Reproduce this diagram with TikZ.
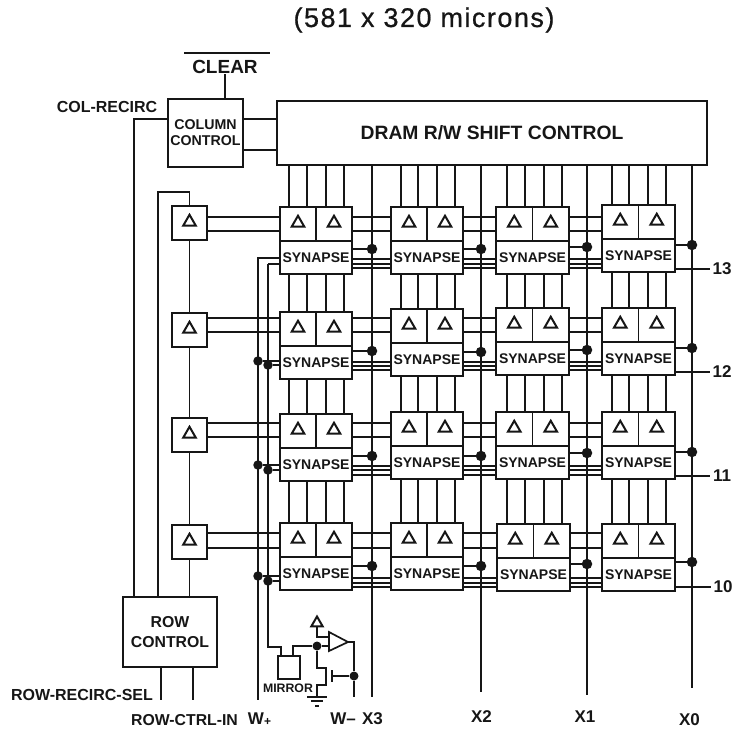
\documentclass[tikz,border=0pt]{standalone}
\usepackage{fontspec}
\setmainfont{Liberation Sans}
\newfontfamily\titlefont[FakeBold=0.7,LetterSpace=5.5]{Liberation Sans}
\usetikzlibrary{shapes.geometric}
\definecolor{ink}{HTML}{161616}
\newcommand{\lbl}[1]{\fontsize{#1}{#1}\selectfont\bfseries}
\tikzset{
  wire/.style={draw=ink,line width=1.6pt},
  boxn/.style={draw=ink,line width=1.7pt,rectangle,inner sep=0pt,outer sep=0pt,text=ink,align=center},
  tribox/.style={boxn,minimum height=34pt},
  synbox/.style={boxn,minimum height=33pt,font=\lbl{14}},
  delta/.style={draw=ink,line width=2pt,regular polygon,regular polygon sides=3,minimum size=14.5pt,inner sep=0pt,yshift=1pt},
  dot/.style={circle,fill=ink,inner sep=0pt,minimum size=10.5pt},
  txt/.style={text=ink,inner sep=0pt,outer sep=0pt}
}
\begin{document}
\begin{tikzpicture}[x=1pt,y=-1pt]
\useasboundingbox (0,0) rectangle (734,732);
% title and labels
\node[txt,font=\titlefont\fontsize{27}{27}\selectfont] (title) at (424,20) {(581 x 320 microns)};
\node[txt,font=\lbl{19}] (clear) at (225,67) {CLEAR};
\node[txt,font=\lbl{16}] (colrecirc) at (107,107) {COL-RECIRC};
\node[txt,font=\lbl{16}] (rowrecirc) at (82,695) {ROW-RECIRC-SEL};
\node[txt,font=\lbl{15.8}] (rowctrl) at (184.5,720) {ROW-CTRL-IN};
\node[txt,font=\lbl{17}] (wplus) at (259.5,719) {W\raisebox{-0.5pt}{\fontsize{12}{12}\selectfont+}};
\node[txt,font=\lbl{17}] (wminus) at (343,719) {W--};
\node[txt,font=\lbl{17}] (lx3) at (372.5,719) {X3};
\node[txt,font=\lbl{17}] (lx2) at (481.5,717) {X2};
\node[txt,font=\lbl{17}] (lx1) at (585,717) {X1};
\node[txt,font=\lbl{17}] (lx0) at (689.5,720) {X0};
% main blocks
\node[boxn,minimum width=430pt,minimum height=64pt,font=\lbl{19.3},anchor=north west] (dram) at (277,101) {DRAM R/W SHIFT CONTROL};
\node[boxn,minimum width=75pt,minimum height=68pt,font=\lbl{14.2},anchor=north west] (colc) at (168,99) {COLUMN\\[2pt]CONTROL};
\node[boxn,minimum width=94pt,minimum height=70pt,font=\lbl{15.8},anchor=north west] (rowc) at (123,597) {ROW\\[4pt]CONTROL};
\node[boxn,minimum width=22pt,minimum height=23pt,anchor=north west] (mirror) at (278,656) {};
\node[txt,font=\lbl{12.3}] (lmirror) at (288,688) {MIRROR};
% row delta boxes
\foreach \r/\y in {1/206,2/313,3/418,4/525}{
  \node[boxn,minimum width=35pt,minimum height=34pt,anchor=north west] (rb\r) at (172,\y) {};
  \node[delta] (rt\r) at (rb\r) {};
}
% cells
\foreach \r/\c/\x/\w/\t in {
 1/1/280/72/207,1/2/391/72/207,1/3/496/73/207,1/4/602/73/205,
 2/1/280/72/312,2/2/391/72/309,2/3/496/73/308,2/4/602/73/308,
 3/1/280/72/414,3/2/391/72/412,3/3/496/73/412,3/4/602/73/412,
 4/1/280/72/523,4/2/391/72/523,4/3/497/73/524,4/4/602/73/524}{
  \pgfmathsetmacro\hw{\w/2}
  \pgfmathsetmacro\xm{\x+\w/2}
  \pgfmathsetmacro\yh{\t+34}
  \node[tribox,minimum width=\hw pt,anchor=north west] (ca\r\c) at (\x,\t) {};
  \node[tribox,minimum width=\hw pt,anchor=north west] (cb\r\c) at (\xm,\t) {};
  \node[synbox,minimum width=\w pt,anchor=north west] (s\r\c) at (\x,\yh) {SYNAPSE};
  \node[delta] (ta\r\c) at (ca\r\c) {};
  \node[delta] (tb\r\c) at (cb\r\c) {};
}
% named positions
\foreach \n/\x in {v1a/289,v1b/307,v1c/326,v1d/344,v2a/401,v2b/418,v2c/437,v2d/455,v3a/507,v3b/525,v3c/544,v3d/562,v4a/612,v4b/629,v4c/648,v4d/666,
                   xl3/372,xl2/481,xl1/587,xl0/692,wp/258,wm/268,rca/161,rcb/193}
  \coordinate (\n) at (\x,0);
\coordinate (xe3) at (372,697);\coordinate (xe2) at (481,692);\coordinate (xe1) at (587,695);\coordinate (xe0) at (692,688);
\coordinate (wpe) at (258,700);\coordinate (rcae) at (161,700);\coordinate (rcbe) at (193,700);
% X lines
\foreach \i in {3,2,1,0} \draw[wire] (dram.south -| xl\i) -- (xe\i);
% vertical data lines
\foreach \c in {1,2,3,4}{
  \foreach \s/\b in {a/ca,b/ca,c/cb,d/cb}{
    \draw[wire] (dram.south -| v\c\s) -- (\b1\c.north -| v\c\s);
    \draw[wire] (s1\c.south -| v\c\s) -- (\b2\c.north -| v\c\s);
    \draw[wire] (s2\c.south -| v\c\s) -- (\b3\c.north -| v\c\s);
    \draw[wire] (s3\c.south -| v\c\s) -- (\b4\c.north -| v\c\s);
  }
}
% delta lines per row
\foreach \r/\ya/\yb in {1/217/231,2/318/332,3/423/437,4/533/548}{
  \coordinate (ya\r) at (0,\ya); \coordinate (yb\r) at (0,\yb);
  \foreach \q in {ya,yb}{
    \draw[wire] (rb\r.east |- \q\r) -- (ca\r1.west |- \q\r);
    \draw[wire] (cb\r1.east |- \q\r) -- (ca\r2.west |- \q\r);
    \draw[wire] (cb\r2.east |- \q\r) -- (ca\r3.west |- \q\r);
    \draw[wire] (cb\r3.east |- \q\r) -- (ca\r4.west |- \q\r);
  }
}
% synapse triple lines
\foreach \r/\ya/\yb/\yc in {1/259/264/268,2/362/366/370,3/466/470/475,4/578/583/587}{
  \foreach \n/\y in {p/\ya,q/\yb,w/\yc}{
    \coordinate (t\n\r) at (0,\y);
    \draw[wire,line width=1.3pt] (s\r1.east |- t\n\r) -- (s\r2.west |- t\n\r);
    \draw[wire,line width=1.3pt] (s\r2.east |- t\n\r) -- (s\r3.west |- t\n\r);
    \draw[wire,line width=1.3pt] (s\r3.east |- t\n\r) -- (s\r4.west |- t\n\r);
  }
}
% synapse stubs with dots
\foreach \r/\c/\xn/\y in {1/1/xl3/249,1/2/xl2/249,1/3/xl1/247,1/4/xl0/245,
                          2/1/xl3/351,2/2/xl2/352,2/3/xl1/350,2/4/xl0/348,
                          3/1/xl3/456,3/2/xl2/456,3/3/xl1/453,3/4/xl0/452,
                          4/1/xl3/566,4/2/xl2/566,4/3/xl1/564,4/4/xl0/562}{
  \coordinate (sy\r\c) at (0,\y);
  \node[dot] (d\r\c) at (\xn |- sy\r\c) {};
  \draw[wire] (s\r\c.east |- d\r\c) -- (d\r\c);
}
% row output labels
\foreach \r/\n/\y/\lx in {1/13/269/722,2/12/372/722,3/11/476/722,4/10/587/723}{
  \node[txt,font=\lbl{17}] (ro\r) at (\lx,\y) {\n};
  \coordinate (ry\r) at (0,\y);
  \draw[wire,shorten >=3pt] (s\r4.east |- ry\r) -- (ro\r.west |- ry\r);
}
% W+ and W- distribution
\coordinate (wpt) at (258,258);\coordinate (wmt) at (268,264);
\draw[wire] (s11.west |- wpt) -- (wpt) -- (wpe);
\draw[wire] (s11.west |- wmt) -- (wmt);
\coordinate (wmc) at (268,647);\coordinate (wmd) at (281,647);
\draw[wire] (wmt) -- (wmc) -- (wmd) -- (mirror.north -| wmd);
\foreach \r/\ya/\yb in {2/361/365,3/465/470,4/576/581}{
  \coordinate (wa\r) at (0,\ya);\coordinate (wb\r) at (0,\yb);
  \node[dot,minimum size=9.5pt] (dp\r) at (wp |- wa\r) {};
  \node[dot,minimum size=9.5pt] (dm\r) at (wm |- wb\r) {};
  \draw[wire] (dp\r) -- (s\r1.west |- dp\r);
  \draw[wire] (dm\r) -- (s\r1.west |- dm\r);
}
% row control wiring
\draw[wire] (rb1.south) -- (rb2.north);
\draw[wire] (rb2.south) -- (rb3.north);
\draw[wire] (rb3.south) -- (rb4.north);
\draw[wire] (rb4.south) -- (rowc.north -| rb4.south);
\coordinate (rtop) at (158,192);
\draw[wire] (rb1.north) |- (rtop) -- (rowc.north -| rtop);
\coordinate (crc) at (134,119);
\draw[wire] (colc.west |- crc) -- (crc) -- (rowc.north -| crc);
\coordinate (cd1) at (0,119);\coordinate (cd2) at (0,150);
\draw[wire] (colc.east |- cd1) -- (dram.west |- cd1);
\draw[wire] (colc.east |- cd2) -- (dram.west |- cd2);
\draw[wire] (rowc.south -| rca) -- (rcae);
\draw[wire] (rowc.south -| rcb) -- (rcbe);
% clear
\coordinate (cbl) at (184,53);\coordinate (cbr) at (270,53);
\draw[wire] (cbl) -- (cbr);
\draw[wire] (colc.north -| clear.south) -- (clear.south);
% mirror and amplifier
\coordinate (mo) at (293,646);
\node[dot,minimum size=9pt] (dn) at (317,646) {};
\draw[wire] (mirror.north -| mo) -- (mo) -- (dn);
\coordinate (a1) at (329,632);\coordinate (a2) at (329,651);\coordinate (a3) at (348,642);
\draw[wire,line width=1.7pt,line join=miter] (a1) -- (a2) -- (a3) -- cycle;
\coordinate (ain) at (329,646);
\draw[wire] (dn) -- (ain);
\node[delta,minimum size=13pt] (dt) at (317,624) {};
\coordinate (dc) at (317,637);\coordinate (ain2) at (329,637);
\draw[wire] (dt.south) -- (dc) -- (ain2);
\coordinate (oc) at (354,642);
\node[dot,minimum size=9pt] (dg) at (354,676) {};
\coordinate (oe) at (354,697);
\draw[wire] (a3) -- (oc) -- (dg) -- (oe);
\coordinate (gate) at (332,676);
\draw[wire] (dg) -- (gate);
\coordinate (g1) at (332,670);\coordinate (g2) at (332,682);
\draw[wire] (g1) -- (g2);
\coordinate (t1) at (317,668);\coordinate (t2) at (326,668);\coordinate (t3) at (326,685);\coordinate (t4) at (317,685);\coordinate (t5) at (317,697);
\draw[wire] (dn) -- (t1) -- (t2) -- (t3) -- (t4) -- (t5);
\foreach \y/\h in {697/10,701/6,706/2}{
  \coordinate (gl) at (317-\h,\y);\coordinate (gr) at (317+\h,\y);
  \draw[wire] (gl) -- (gr);
}
\end{tikzpicture}
\end{document}
